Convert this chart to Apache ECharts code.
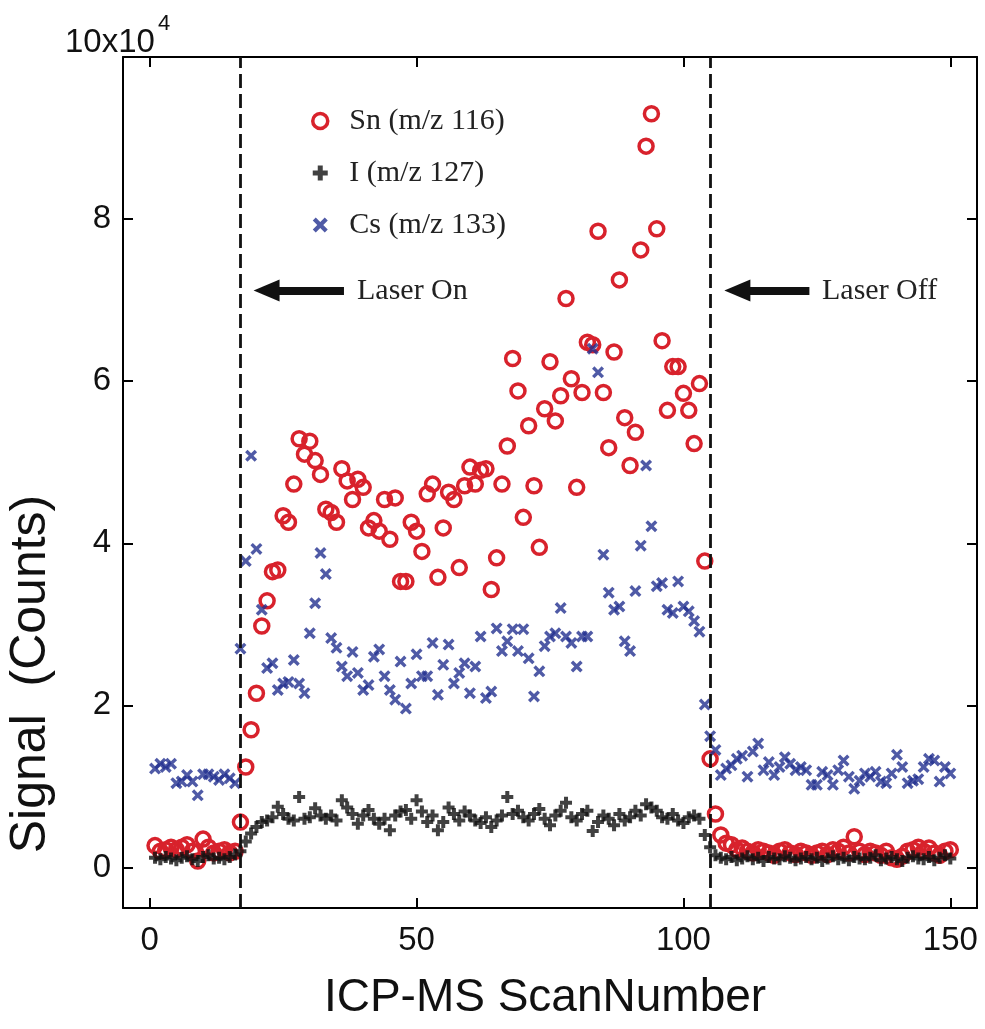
<!DOCTYPE html>
<html>
<head>
<meta charset="utf-8">
<script src="https://cdn.jsdelivr.net/npm/echarts@6/dist/echarts.min.js"></script>
<style>
  html, body { margin: 0; padding: 0; background: #fff; }
  #chart { width: 985px; height: 1029px; }
</style>
</head>
<body>
<div id="chart"></div>
<script>
// Signal per ICP-MS scan, in units of 10^4 counts (scans 1..150)
const snSignal = [
  0.27,0.20,0.22,0.25,0.22,0.25,0.28,0.20,0.08,0.35,0.25,0.18,0.20,0.22,0.18,0.20,
  0.56,
  1.24,1.70,2.15,2.98,3.29,3.65,3.67,4.34,4.26,4.73,5.29,5.10,5.26,5.02,4.85,4.42,4.38,4.26,4.92,4.77,
  4.54,4.79,4.69,4.19,4.28,4.15,4.54,4.05,4.56,3.53,3.53,4.26,4.15,3.90,4.61,4.73,3.58,4.19,4.63,4.54,3.70,4.71,4.94,
  4.73,4.90,4.92,3.43,3.82,4.73,5.20,6.28,5.88,4.32,5.45,4.71,3.95,5.66,6.24,5.51,5.82,7.02,6.03,4.69,5.86,6.48,
  6.45,7.85,5.86,5.18,6.36,7.25,5.55,4.96,5.37,7.62,8.90,9.30,7.88,6.50,5.64,6.18,6.18,5.85,5.64,5.23,5.97,3.78,
  1.34,
  0.66,0.40,0.30,0.28,0.22,0.24,0.20,0.18,0.22,0.20,0.18,0.15,0.20,0.22,0.18,0.16,0.20,0.18,0.15,0.18,
  0.20,0.16,0.22,0.20,0.25,0.18,0.38,0.20,0.16,0.20,0.18,0.15,0.20,0.12,0.10,0.14,0.20,0.22,0.25,0.20,
  0.24,0.18,0.15,0.20,0.22
];

const iSignal = [
  0.12,0.10,0.13,0.11,0.09,0.12,0.14,0.10,0.08,0.13,0.15,0.11,0.12,0.10,0.13,0.16,
  0.20,0.32,0.42,0.50,0.56,0.58,0.62,0.75,0.66,0.60,0.58,0.87,0.60,0.62,0.73,0.64,0.60,0.64,0.58,0.83,0.74,0.66,0.54,
  0.64,0.71,0.60,0.54,0.60,0.46,0.64,0.69,0.71,0.60,0.83,0.69,0.56,0.64,0.46,0.56,0.74,0.66,0.58,0.69,0.64,0.58,
  0.55,0.62,0.50,0.58,0.64,0.87,0.66,0.70,0.62,0.58,0.66,0.72,0.60,0.52,0.64,0.70,0.80,0.62,0.58,0.66,
  0.70,0.45,0.56,0.64,0.60,0.52,0.66,0.58,0.62,0.70,0.64,0.78,0.74,0.70,0.62,0.60,0.66,0.58,0.55,0.62,
  0.64,0.60,0.40,
  0.25,0.15,0.12,0.10,0.13,0.09,0.11,0.14,0.10,0.12,0.08,0.13,0.11,0.10,0.14,0.12,0.09,0.11,0.13,0.10,
  0.12,0.08,0.11,0.14,0.10,0.12,0.09,0.13,0.11,0.10,0.12,0.15,0.09,0.11,0.13,0.10,0.08,0.12,0.14,0.11,
  0.10,0.13,0.09,0.12,0.15,0.11
];

const csSignal = [
  1.22,1.28,1.24,1.28,1.04,1.06,1.14,1.06,0.89,1.15,1.15,1.12,1.08,1.15,1.10,1.04,
  2.70,
  3.78,5.08,3.93,3.18,2.46,2.52,2.19,2.27,2.29,2.56,2.27,2.15,2.89,3.26,3.88,3.62,2.83,2.71,2.48,2.36,
  2.66,2.40,2.19,2.25,2.60,2.69,2.36,2.19,2.07,2.54,1.96,2.27,2.63,2.36,2.36,2.77,2.13,2.50,2.75,
  2.27,2.40,2.52,2.15,2.48,2.85,2.09,2.17,2.95,2.67,2.79,2.94,2.67,2.94,2.58,2.11,2.42,2.73,2.85,2.89,
  3.20,2.85,2.77,2.48,2.85,2.85,
  6.40,6.11,3.86,3.39,3.18,3.22,2.79,2.67,3.41,3.97,4.96,4.21,3.47,3.51,3.18,3.14,3.53,3.22,3.16,3.04,2.91,2.01,
  1.62,1.45,1.14,1.22,1.26,1.34,1.38,1.12,1.43,1.53,1.20,1.30,1.14,1.24,1.36,1.28,1.20,1.24,1.20,1.02,
  1.02,1.18,1.14,1.02,1.20,1.32,1.12,0.97,1.07,1.16,1.12,1.18,1.06,1.04,1.16,1.39,1.24,1.04,1.07,1.09,
  1.24,1.34,1.32,1.06,1.24,1.16
];

const seriesNames = ['Sn (m/z 116)', 'I (m/z 127)', 'Cs (m/z 133)'];
const xTicks = [0, 50, 100, 150];
const yTicks = [0, 2, 4, 6, 8, 10];
const laserOnScan = 17;
const laserOffScan = 105;

const scanNumbers = snSignal.map((_, i) => i + 1);
const pairs = arr => arr.map((v, i) => [scanNumbers[i], v]);

const SANS = 'Liberation Sans, Arial, sans-serif';
const SERIF = 'Liberation Serif, Times New Roman, serif';
const PLUS = 'path://M4,0h4v4h4v4h-4v4h-4v-4h-4v-4h4z';
const CROSS = 'path://M0,2.4L2.4,0L6,3.6L9.6,0L12,2.4L8.4,6L12,9.6L9.6,12L6,8.4L2.4,12L0,9.6L3.6,6Z';

const RED = '#d8222c';
const BLUE = '#233190';
const BLACK = '#111111';

const frameAxis = (extra) => Object.assign({
  type: 'value',
  axisLine: { show: true, onZero: false, lineStyle: { color: '#000', width: 2 } },
  axisTick: { show: true, inside: true, length: 10, lineStyle: { color: '#000', width: 2 } },
  axisLabel: { show: false },
  splitLine: { show: false }
}, extra);

const chart = echarts.init(document.getElementById('chart'), null, { renderer: 'canvas' });

chart.setOption({
  animation: false,
  backgroundColor: '#fff',
  grid: { left: 123, right: 8, top: 57, bottom: 121 },
  legend: {
    orient: 'vertical',
    left: 306, top: 101,
    itemWidth: 24, itemHeight: 15,
    itemGap: 22,
    data: [
      { name: seriesNames[0], icon: 'circle', itemStyle: { color: 'rgba(255,255,255,0)', borderColor: RED, borderWidth: 3.5 } },
      { name: seriesNames[1], icon: PLUS },
      { name: seriesNames[2], icon: CROSS }
    ],
    textStyle: { fontFamily: SERIF, fontSize: 30, color: '#222', padding: [0, 0, 0, 12] }
  },
  xAxis: [
    frameAxis({
      min: -5, max: 155, position: 'bottom',
      axisTick: { show: true, inside: true, length: 10, customValues: xTicks, lineStyle: { color: '#000', width: 2 } },
      axisLabel: { show: true, customValues: xTicks, fontFamily: SANS, fontSize: 33, color: '#111', margin: 16 }
    }),
    frameAxis({
      min: -5, max: 155, position: 'top',
      axisTick: { show: true, inside: true, length: 10, customValues: xTicks, lineStyle: { color: '#000', width: 2 } }
    })
  ],
  yAxis: [
    frameAxis({
      min: -0.5, max: 10, position: 'left',
      axisTick: { show: true, inside: true, length: 10, customValues: yTicks, lineStyle: { color: '#000', width: 2 } },
      axisLabel: { show: true, customValues: yTicks.slice(0, -1), fontFamily: SANS, fontSize: 33, color: '#111', margin: 12 }
    }),
    frameAxis({
      min: -0.5, max: 10, position: 'right',
      axisTick: { show: true, inside: true, length: 10, customValues: yTicks, lineStyle: { color: '#000', width: 2 } }
    })
  ],
  series: [
    {
      name: seriesNames[0], type: 'scatter', symbol: 'circle', symbolSize: 14,
      itemStyle: { color: 'rgba(255,255,255,0)', borderColor: RED, borderWidth: 3.5, opacity: 1 },
      data: pairs(snSignal),
      z: 2,
      markLine: {
        silent: true, animation: false,
        label: { show: false },
        symbol: ['none', 'none'],
        lineStyle: { color: '#111', width: 2.8, type: [14, 6] },
        data: [
          [{ xAxis: laserOnScan, yAxis: -0.5 }, { xAxis: laserOnScan, yAxis: 10 }],
          [{ xAxis: laserOffScan, yAxis: -0.5 }, { xAxis: laserOffScan, yAxis: 10 }],
          [
            { coord: [36.4, 7.12], symbol: 'none', lineStyle: { color: '#111', width: 8, type: 'solid' } },
            { coord: [21.9, 7.12], symbol: 'triangle', symbolSize: [22, 26] }
          ],
          [
            { coord: [123.6, 7.12], symbol: 'none', lineStyle: { color: '#111', width: 8, type: 'solid' } },
            { coord: [110.1, 7.12], symbol: 'triangle', symbolSize: [22, 26] }
          ]
        ]
      }
    },
    {
      name: seriesNames[1], type: 'scatter', symbol: PLUS, symbolSize: 12,
      itemStyle: { color: BLACK },
      data: pairs(iSignal),
      z: 3
    },
    {
      name: seriesNames[2], type: 'scatter', symbol: CROSS, symbolSize: 12,
      itemStyle: { color: BLUE },
      data: pairs(csSignal),
      z: 4
    }
  ],
  graphic: [
    { type: 'text', left: 65, top: 26, style: { text: '10x10', fontFamily: SANS, fontSize: 33, fill: '#111' } },
    { type: 'text', left: 158, top: 13, style: { text: '4', fontFamily: SANS, fontSize: 22, fill: '#111' } },
    {
      type: 'text', x: 31, y: 674, rotation: Math.PI / 2,
      style: { text: 'Signal  (Counts)', fontFamily: SANS, fontSize: 50, fill: '#111', align: 'center', verticalAlign: 'middle' }
    },
    {
      type: 'text', x: 545, y: 998,
      style: { text: 'ICP-MS ScanNumber', fontFamily: SANS, fontSize: 46, fill: '#111', align: 'center', verticalAlign: 'middle' }
    },
    { type: 'text', left: 357, top: 276, style: { text: 'Laser On', fontFamily: SERIF, fontSize: 30, fill: '#222' } },
    { type: 'text', left: 822, top: 276, style: { text: 'Laser Off', fontFamily: SERIF, fontSize: 30, fill: '#222' } }
  ]
});
</script>
</body>
</html>
